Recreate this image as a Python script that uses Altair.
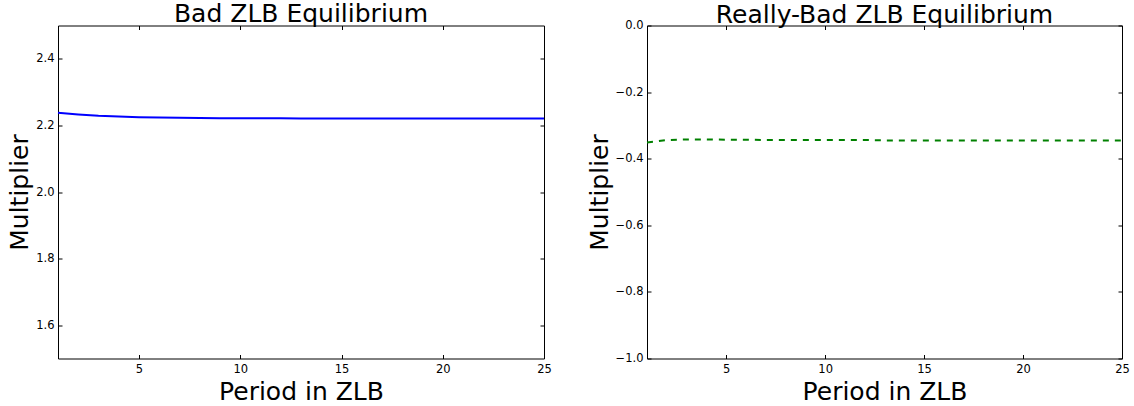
import altair as alt
import pandas as pd

periods = list(range(1, 26))
bad_multiplier = [2.238, 2.233, 2.229, 2.2265, 2.2248, 2.2236, 2.2228, 2.2222, 2.2218,
                  2.2215, 2.2212, 2.2211, 2.221, 2.221, 2.221, 2.221, 2.221, 2.221,
                  2.221, 2.221, 2.221, 2.221, 2.221, 2.221, 2.221]
really_bad_multiplier = [-0.351, -0.344, -0.342, -0.342, -0.343, -0.343, -0.344, -0.344,
                         -0.344, -0.344, -0.344, -0.344, -0.345, -0.345, -0.345, -0.345,
                         -0.345, -0.345, -0.345, -0.345, -0.345, -0.345, -0.345, -0.345,
                         -0.345]

x_ticks = [5, 10, 15, 20, 25]
left_y_ticks = [1.6, 1.8, 2.0, 2.2, 2.4]
right_y_ticks = [-1.0, -0.8, -0.6, -0.4, -0.2, 0.0]

FONT = "DejaVu Sans"
BIG = 25
SMALL = 11.5


def panel(values, title, ydomain, yticks, color, dash, width, title_offset):
    df = pd.DataFrame({"t": periods, "v": values})
    xs = alt.Scale(domain=[1, 25], nice=False, zero=False)
    ys = alt.Scale(domain=ydomain, nice=False, zero=False)
    common = dict(offset=-4, tickSize=4, domain=False, grid=False,
                  tickColor="black", labelColor="black", titleColor="black",
                  labelFontSize=SMALL, titleFontSize=BIG, titleFontWeight="normal",
                  labelFont=FONT, titleFont=FONT)
    bottom = alt.Axis(orient="bottom", values=x_ticks, format="d", labelPadding=5,
                      labelFlush=False, title="Period in ZLB", titlePadding=4, **common)
    left = alt.Axis(orient="left", values=yticks, format=".1f", labelPadding=4,
                    title="Multiplier", titlePadding=3, **common)
    top = alt.Axis(orient="top", values=x_ticks, labels=False, title=None, offset=-4,
                   tickSize=4, domain=False, grid=False, tickColor="black")
    right = alt.Axis(orient="right", values=yticks, labels=False, title=None, offset=-4,
                     tickSize=4, domain=False, grid=False, tickColor="black")
    mark_kw = dict(color=color, strokeWidth=2)
    if dash:
        mark_kw["strokeDash"] = dash
    main = alt.Chart(df).mark_line(**mark_kw).encode(
        x=alt.X("t:Q", scale=xs, axis=bottom),
        y=alt.Y("v:Q", scale=ys, axis=left),
    )
    aux = alt.Chart(df).mark_line(opacity=0).encode(
        x=alt.X("t:Q", scale=xs, axis=top),
        y=alt.Y("v:Q", scale=ys, axis=right),
    )
    return alt.layer(main, aux).resolve_axis(x="independent", y="independent").properties(
        width=width, height=333,
        title=alt.TitleParams(text=title, fontSize=BIG, font=FONT, fontWeight="normal",
                              anchor="middle", frame="group", color="black",
                              offset=title_offset),
    )


left_panel = panel(bad_multiplier, "Bad ZLB Equilibrium", [1.5, 2.5], left_y_ticks,
                   "#0000ff", None, 486, -2)
right_panel = panel(really_bad_multiplier, "Really-Bad ZLB Equilibrium", [-1.0, 0.0],
                    right_y_ticks, "#008000", [6, 6], 475, -8.5)

chart = alt.hconcat(left_panel, right_panel, spacing=34).properties(
    padding={"left": 7, "top": 1.5, "right": 0, "bottom": 0},
    background="white",
).configure(font=FONT).configure_view(stroke="black", strokeWidth=1)

chart.save("out.html", embed_options={"renderer": "svg", "actions": False})
